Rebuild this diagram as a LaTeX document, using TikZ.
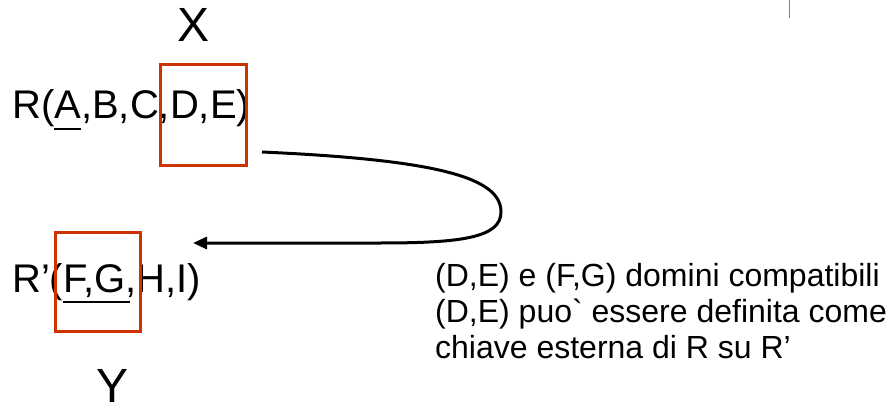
\documentclass[tikz,border=0pt]{standalone}
\usepackage{fontspec}
\setmainfont{Liberation Sans}
\newfontfamily\nomapfont{Liberation Sans}
\usetikzlibrary{arrows.meta}
\definecolor{boxred}{RGB}{204,51,0}
\tikzset{
  big/.style={font=\fontsize{48}{58}\selectfont, inner sep=0pt, anchor=base},
  rel/.style={font=\fontsize{40}{46}\selectfont, inner sep=0pt, anchor=base west},
  note/.style={font=\fontsize{32}{36}\selectfont, inner sep=0pt, anchor=base west},
  keybox/.style={draw=boxred, line width=3pt},
  uline/.style={line width=2.2pt},
  fk/.style={line width=3pt, -{Triangle[length=14pt,width=12pt]}}
}
\begin{document}
\begin{tikzpicture}[x=1pt,y=-1pt]
\useasboundingbox (0,0) rectangle (894,409);
\node[big] (X) at (194,42) {X};
\node[big] (Y) at (112.5,402) {Y};
\node[rel] (R) at (12,119) {R(A,B,C,D,E)};
\node[rel] (Rp) at (12,292) {R’(F,G,H,I)};
\draw[uline] (54,129) -- (81,129);
\draw[uline] (63,302) -- (130,302);
\draw[keybox] (160,65) rectangle (246,165);
\draw[keybox] (55,232) rectangle (140,331);
\coordinate (s) at (262,152);
\coordinate (m) at (501,212);
\coordinate (t) at (193,243);
\draw[fk] (s) .. controls (440,160) and (501,178) .. (m)
  .. controls (501,238) and (460,243) .. (380,243) -- (t);
\node[note] (n1) at (435,286) {(D,E) e (F,G) domini compatibili};
\node[note] (n2) at (435,322) {(D,E) puo{\nomapfont\char"60} essere definita come};
\node[note] (n3) at (435,358) {chiave esterna di R su R’};
\draw[gray, line width=1pt] (789,0) -- (789,18);
\end{tikzpicture}
\end{document}
